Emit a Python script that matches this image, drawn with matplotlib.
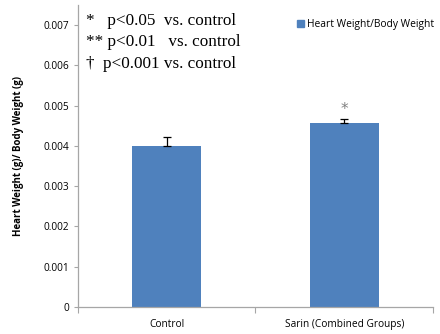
import matplotlib
matplotlib.use("Agg")
import matplotlib.pyplot as plt
from matplotlib.patches import Patch

categories = ["Control", "Sarin (Combined Groups)"]
values = [0.00400, 0.00457]
errors = [0.00023, 0.00010]
stars = ["", "*"]
series_name = "Heart Weight/Body Weight"
yticks = [0, 0.001, 0.002, 0.003, 0.004, 0.005, 0.006, 0.007]
ytick_labels = ["0", "0.001", "0.002", "0.003", "0.004", "0.005", "0.006", "0.007"]
notes = ["*   p<0.05  vs. control", "** p<0.01   vs. control", "\u2020  p<0.001 vs. control"]

BLUE = "#4F81BD"
GRAY = "#A6A6A6"
SANS = "Open Sans"

fig = plt.figure(figsize=(4.4, 3.34), dpi=100)
ax = fig.add_axes([0.177, 0.081, 0.807, 0.904])

x = list(range(len(categories)))
ax.bar(x, values, width=0.39, color=BLUE, zorder=2)
# upper error bars only
ax.errorbar(x, values, yerr=[[0] * len(errors), errors], fmt="none", ecolor="black",
            elinewidth=0.9, capsize=3, capthick=0.9, zorder=3)
for xi, v, e, s in zip(x, values, errors, stars):
    if s:
        ax.text(xi, v + e + 0.00005, s, ha="center", va="bottom",
                fontsize=11, color="#808080", family="DejaVu Sans")

ax.set_xlim(-0.5, len(categories) - 0.5)
ax.set_ylim(0, 0.0075)
ax.set_yticks(yticks)
ax.set_yticklabels(ytick_labels, family=SANS, fontsize=7.3)
ax.set_xticks(x)
ax.set_xticklabels(categories, family=SANS, fontsize=7.3)
ax.tick_params(axis="x", length=0, pad=9)
ax.tick_params(axis="y", length=3, color=GRAY, width=0.8, pad=3)
# category boundary ticks on the x axis
ax.set_xticks([-0.5, 0.5, 1.5], minor=True)
ax.tick_params(axis="x", which="minor", length=4, color=GRAY, width=0.8)

for side in ["top", "right"]:
    ax.spines[side].set_visible(False)
for side in ["left", "bottom"]:
    ax.spines[side].set_color(GRAY)
    ax.spines[side].set_linewidth(0.9)

ax.set_ylabel("Heart Weight (g)/ Body Weight (g)", family=SANS, fontsize=7,
              fontweight="bold", labelpad=14)

for i, t in enumerate(notes):
    fig.text(0.195, 0.937 - i * 0.064, t, family="Liberation Serif", fontsize=12.3,
             va="center", ha="left")

ax.legend(handles=[Patch(color=BLUE, label=series_name)], loc="upper right",
          bbox_to_anchor=(1.03, 0.985), frameon=False, handlelength=0.7,
          handleheight=0.7, handletextpad=0.3, prop={"family": SANS, "size": 7.4})

fig.savefig("out.png", dpi=100)
